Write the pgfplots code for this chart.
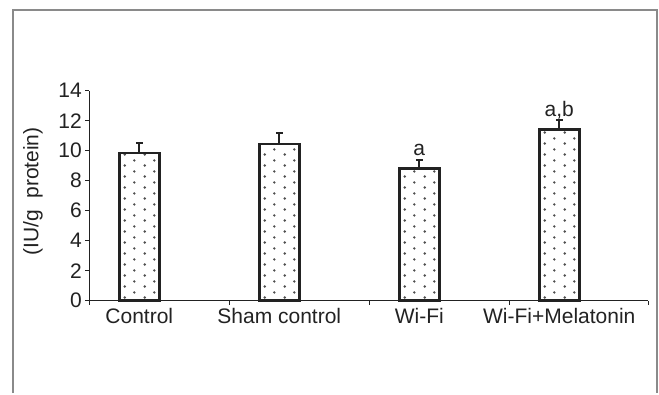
\documentclass[border=0pt]{standalone}
\usepackage{fontspec}
\setmainfont{Liberation Sans}
\usepackage{pgfplots}
\pgfplotsset{compat=1.18}
\usetikzlibrary{patterns.meta}
\pgfdeclarepattern{
  name=sparsedots,
  type=uncolored,
  bottom left={\pgfpoint{0pt}{0pt}},
  top right={\pgfpoint{20pt}{10.5pt}},
  tile size={\pgfpoint{20pt}{10.5pt}},
  code={
    \pgfpathcircle{\pgfpoint{5pt}{2.6pt}}{1.4pt}
    \pgfpathcircle{\pgfpoint{15pt}{7.9pt}}{1.4pt}
    \pgfusepath{fill}
  }
}
\definecolor{ink}{HTML}{222222}
\definecolor{framegray}{HTML}{8A8A8A}
\pgfplotstableread{
x  y     err
0  9.85  0.68
1  10.45 0.75
2  8.83  0.55
3  11.43 0.62
}\datatable
\begin{document}
\begin{tikzpicture}
\begin{axis}[
  name=ax,
  scale only axis,
  width=559pt, height=210pt,
  xmin=-0.357, xmax=3.636,
  ymin=0, ymax=14,
  axis lines*=left,
  axis line style={ink, line width=1pt},
  xtick={0,1,2,3},
  xticklabels={Control,Sham control,Wi-Fi,Wi-Fi+Melatonin},
  major x tick style={draw=none},
  minor xtick={-0.357,0.643,1.643,2.643,3.636},
  ytick={0,2,...,14},
  tick align=outside,
  major tick length=4pt,
  minor tick length=4pt,
  tick style={ink, line width=0.8pt},
  every tick label/.append style={font=\fontsize{21}{24}\selectfont, text=ink},
  /pgf/number format/assume math mode=true,
  ylabel={(IU/g\ \ protein)},
  ylabel style={at={(axis description cs:-0.101,0.52)}, anchor=center, font=\fontsize{21}{24}\selectfont, text=ink},
  clip=false,
]
\addplot[ybar, bar width=40pt, draw=ink, line width=2.8pt,
  fill=white, postaction={pattern={sparsedots}, pattern color=ink!80},
  error bars/.cd, y dir=plus, y explicit,
  error bar style={ink, line width=2pt},
  error mark options={ink, line width=2pt, mark size=3.5pt, rotate=90}]
  table[x=x, y=y, y error=err] {\datatable};
\node[anchor=base, font=\fontsize{21}{24}\selectfont, text=ink] at (axis cs:2,9.65) {a};
\node[anchor=base, font=\fontsize{21}{24}\selectfont, text=ink] at (axis cs:3,12.3) {a,b};
\end{axis}
\draw[framegray, line width=2pt] ([shift={(-76.3pt,-92.3pt)}]ax.south west) -- ([shift={(-76.3pt,290.7pt)}]ax.south west) -- ([shift={(567.4pt,290.7pt)}]ax.south west) -- ([shift={(567.4pt,-92.3pt)}]ax.south west);
\path[use as bounding box] ([shift={(-89.3pt,-92.3pt)}]ax.south west) rectangle ([shift={(569.7pt,300.7pt)}]ax.south west);
\end{tikzpicture}
\end{document}
